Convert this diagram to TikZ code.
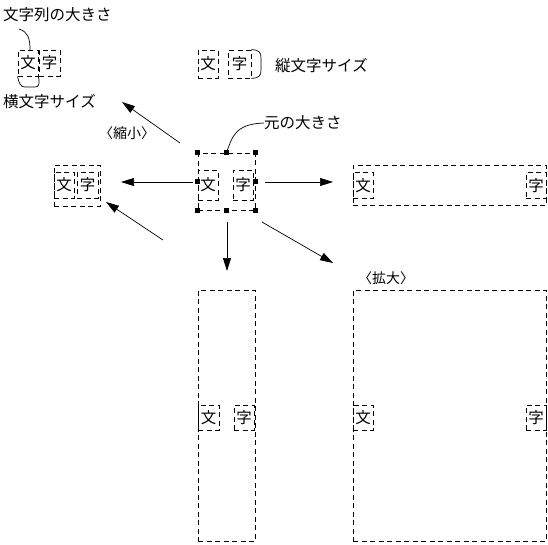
\documentclass[tikz,border=0pt]{standalone}
\usepackage{fontspec}
\newfontfamily\jp{Noto Sans CJK JP}
\usetikzlibrary{arrows.meta}
\begin{document}
\begin{tikzpicture}[x=1pt,y=-1pt,
  dbox/.style={draw, dash pattern=on 5pt off 3.5pt, line width=0.8pt, inner sep=0pt},
  cbox/.style={dbox, font=\jp\fontsize{15.5}{15.5}\selectfont},
  lbl/.style={font=\jp\fontsize{15.5}{15.5}\selectfont, inner sep=0pt},
  blbl/.style={font=\jp\fontsize{14}{14}\selectfont, inner sep=0pt},
  arr/.style={line width=0.7pt, -{Triangle[length=13pt,width=8pt]}},
  thin/.style={line width=0.7pt},
  handle/.style={fill, minimum size=5pt, inner sep=0pt}]
\useasboundingbox (0,0) rectangle (548,544);

% --- top left: string size / horizontal char size
\node[lbl, anchor=west] (lsize) at (3,15) {文字列の大きさ};
\node[cbox, minimum width=20pt, minimum height=26pt] (t1) at (28,63) {文};
\node[cbox, minimum width=21pt, minimum height=26pt] (t2) at (49.5,63) {字};
\node[lbl, anchor=west] (lhor) at (3,102) {横文字サイズ};
\coordinate (tk) at (30,50);
\draw[thin] (19,29) .. controls (28,32) and (30,38) .. (tk);
\draw[thin] (t1.south west) .. controls (19,84) and (21,87) .. (25,87) -- (35,87) .. controls (39,87) and (40,84) .. (t1.south east);

% --- top middle: vertical char size
\node[cbox, minimum width=20pt, minimum height=28pt] (m1) at (208,64) {文};
\node[cbox, minimum width=23pt, minimum height=28pt] (m2) at (239.5,64) {字};
\node[lbl, anchor=west] (lver) at (275,66) {縦文字サイズ};
\draw[thin] (m2.north east) .. controls (259,50) and (261,52) .. (261,58) -- (261,70) .. controls (261,76) and (259,78) .. (m2.south east);

% --- centre: original size
\node[dbox, minimum width=57pt, minimum height=57pt] (c0) at (226.5,181.5) {};
\node[cbox, minimum width=20pt, minimum height=30pt] (c1) at (208,185) {文};
\node[cbox, minimum width=20pt, minimum height=30pt] (c2) at (243,185) {字};
\foreach \p in {north west,north,north east,west,east,south west,south,south east}
  \node[handle] at (c0.\p) {};
\node[lbl, anchor=west] (lorig) at (264,123) {元の大きさ};
\draw[thin] (c0.north) .. controls (232,138) and (234,124) .. (lorig.west);

% --- left: reduced
\node[dbox, minimum width=46pt, minimum height=41pt] (s0) at (77,185.5) {};
\node[cbox, minimum width=20pt, minimum height=26pt] (s1) at (64,185) {文};
\node[cbox, minimum width=21pt, minimum height=26pt] (s2) at (87.5,185) {字};
\node[blbl] (lred) at (127,133) {〈縮小〉};

% --- right: wide
\node[dbox, minimum width=193pt, minimum height=40pt] (r0) at (449.5,185) {};
\node[cbox, minimum width=20pt, minimum height=26pt] (r1) at (363,185.5) {文};
\node[cbox, minimum width=20pt, minimum height=26pt] (r2) at (536,185.5) {字};

% --- bottom: tall
\node[dbox, minimum width=57pt, minimum height=251pt] (v0) at (226.5,415.5) {};
\node[cbox, minimum width=21pt, minimum height=25pt] (v1) at (208.5,417.5) {文};
\node[cbox, minimum width=20pt, minimum height=25pt] (v2) at (244,417.5) {字};

% --- bottom right: enlarged
\node[dbox, minimum width=193pt, minimum height=251pt] (b0) at (449.5,415.5) {};
\node[cbox, minimum width=20pt, minimum height=25pt] (b1) at (363,417.5) {文};
\node[cbox, minimum width=20pt, minimum height=25pt] (b2) at (536,417.5) {字};
\node[blbl] (lenl) at (386,278) {〈拡大〉};

% --- arrows
\coordinate (aR0) at (265,182);  \coordinate (aR1) at (333,182);
\coordinate (aL0) at (193,182);  \coordinate (aL1) at (121,182);
\coordinate (aD0) at (227,222);  \coordinate (aD1) at (227,271);
\coordinate (aUL0) at (180,143); \coordinate (aUL1) at (122,102);
\coordinate (aDL0) at (163,240); \coordinate (aDL1) at (106,202);
\coordinate (aDR0) at (262,222); \coordinate (aDR1) at (333,263);
\draw[arr] (aR0) -- (aR1);
\draw[arr] (aL0) -- (aL1);
\draw[arr] (aD0) -- (aD1);
\draw[arr] (aUL0) -- (aUL1);
\draw[arr] (aDL0) -- (aDL1);
\draw[arr] (aDR0) -- (aDR1);
\end{tikzpicture}
\end{document}
